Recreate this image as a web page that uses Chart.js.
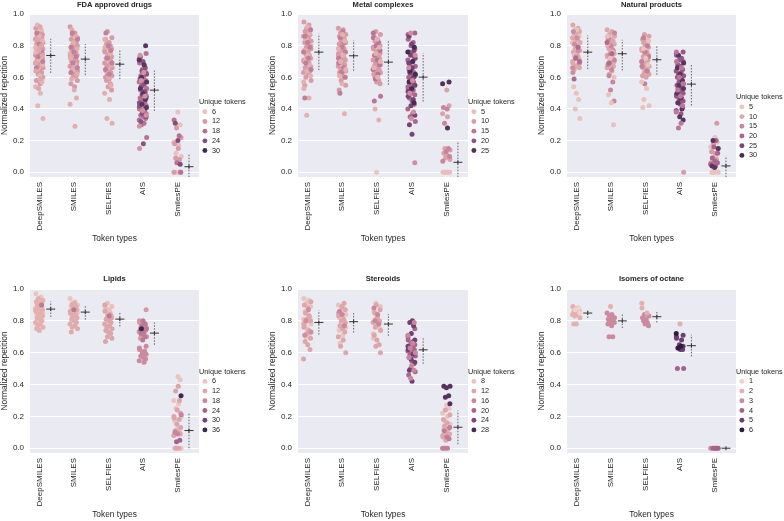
<!DOCTYPE html>
<html>
<head>
<meta charset="utf-8">
<script src="https://cdn.jsdelivr.net/npm/chart.js@4.4.1/dist/chart.umd.min.js"></script>
<style>
  html, body { margin: 0; padding: 0; background: #fff; }
  #wrap { position: relative; width: 784px; height: 521px; overflow: hidden; }
  #wrap canvas { position: absolute; }
</style>
</head>
<body>
<div id="wrap"></div>
<script>
const tokenTypes = ['DeepSMILES', 'SMILES', 'SELFIES', 'AIS', 'SmilesPE'];

// each category: [unique tokens, [normalized repetition, ...]]
const fdaDeepSmiles = [
  [12, [0.91, 0.89, 0.88, 0.87, 0.86, 0.85, 0.85, 0.84, 0.83, 0.82, 0.82, 0.81, 0.80, 0.80, 0.79, 0.78, 0.78, 0.77, 0.77, 0.76, 0.75, 0.75, 0.74, 0.74, 0.73, 0.72, 0.72, 0.71, 0.70, 0.70, 0.69, 0.68, 0.67, 0.66, 0.65, 0.64, 0.63, 0.62, 0.60, 0.58, 0.56]],
  [8, [0.93, 0.90, 0.86, 0.83, 0.79, 0.76, 0.73, 0.71, 0.68, 0.65, 0.61, 0.57, 0.54, 0.50, 0.42, 0.34]],
  [16, [0.88, 0.81, 0.76, 0.73, 0.70, 0.66]],
  [10, [0.92, 0.84, 0.80, 0.77, 0.74, 0.69, 0.64, 0.59, 0.53]]
];
const fdaSmiles = [
  [12, [0.92, 0.88, 0.87, 0.85, 0.84, 0.83, 0.82, 0.81, 0.80, 0.79, 0.78, 0.77, 0.76, 0.75, 0.74, 0.74, 0.73, 0.72, 0.71, 0.70, 0.70, 0.69, 0.68, 0.67, 0.66, 0.65, 0.64, 0.63, 0.62, 0.61, 0.60, 0.58, 0.56, 0.54]],
  [9, [0.90, 0.86, 0.82, 0.78, 0.75, 0.72, 0.68, 0.65, 0.62, 0.59, 0.52, 0.47, 0.43, 0.29]],
  [16, [0.88, 0.84, 0.79, 0.76, 0.73, 0.69, 0.66, 0.63]]
];
const fdaSelfies = [
  [12, [0.89, 0.85, 0.84, 0.82, 0.81, 0.80, 0.79, 0.78, 0.77, 0.76, 0.75, 0.74, 0.73, 0.72, 0.71, 0.70, 0.69, 0.68, 0.67, 0.66, 0.65, 0.64, 0.63, 0.62, 0.61, 0.60, 0.59, 0.58, 0.56, 0.54, 0.52]],
  [9, [0.84, 0.79, 0.75, 0.71, 0.68, 0.64, 0.60, 0.55, 0.50, 0.46, 0.34, 0.31]],
  [16, [0.88, 0.80, 0.77, 0.72, 0.69, 0.65, 0.62]]
];
const fdaAis = [
  [18, [0.75, 0.72, 0.69, 0.67, 0.65, 0.63, 0.61, 0.60, 0.58, 0.57, 0.55, 0.54, 0.53, 0.52, 0.51, 0.50, 0.49, 0.48, 0.47, 0.46, 0.45, 0.44, 0.43, 0.42, 0.41, 0.40, 0.39, 0.38, 0.37, 0.36, 0.35, 0.34, 0.33, 0.31, 0.30, 0.22]],
  [23, [0.73, 0.70, 0.66, 0.64, 0.62, 0.59, 0.56, 0.54, 0.51, 0.49, 0.47, 0.44, 0.42, 0.40, 0.37, 0.35, 0.32, 0.18]],
  [28, [0.80, 0.71, 0.68, 0.60, 0.57, 0.53, 0.50, 0.46, 0.43, 0.41]],
  [13, [0.74, 0.63, 0.58, 0.48, 0.39, 0.36, 0.29, 0.15]]
];
const fdaSmilesPe = [
  [6, [0.38, 0.30, 0.19, 0.17, 0.12, 0.10, 0.0, 0.0, 0.0]],
  [12, [0.28, 0.22, 0.18, 0.15, 0.09, 0.08, 0.07, 0.0, 0.0]],
  [18, [0.33, 0.23, 0.06, 0.0]],
  [24, [0.31, 0.20, 0.05]]
];
const fdaMean = [0.738, 0.715, 0.683, 0.519, 0.035];
const fdaLow = [0.628, 0.614, 0.589, 0.388, -0.05];
const fdaHigh = [0.844, 0.810, 0.774, 0.643, 0.116];
const fdaLegend = [6, 12, 18, 24, 30];

const metalDeepSmiles = [
  [10, [0.95, 0.93, 0.91, 0.90, 0.89, 0.88, 0.87, 0.86, 0.85, 0.84, 0.83, 0.82, 0.81, 0.80, 0.79, 0.78, 0.77, 0.76, 0.75, 0.74, 0.73, 0.72, 0.71, 0.70, 0.69, 0.68, 0.67, 0.66, 0.65, 0.64, 0.63, 0.62, 0.60, 0.58, 0.55]],
  [7, [0.92, 0.88, 0.84, 0.80, 0.77, 0.74, 0.71, 0.68, 0.64, 0.61, 0.57, 0.53, 0.47, 0.36]],
  [14, [0.90, 0.86, 0.82, 0.79, 0.76, 0.72, 0.69, 0.65, 0.47]]
];
const metalSmiles = [
  [10, [0.91, 0.90, 0.88, 0.87, 0.86, 0.85, 0.84, 0.83, 0.82, 0.81, 0.80, 0.79, 0.78, 0.77, 0.76, 0.75, 0.74, 0.73, 0.72, 0.71, 0.70, 0.69, 0.68, 0.67, 0.66, 0.65, 0.64, 0.63, 0.62, 0.60, 0.58, 0.55, 0.52]],
  [14, [0.89, 0.85, 0.82, 0.79, 0.76, 0.72, 0.69, 0.66, 0.63, 0.60, 0.50]],
  [7, [0.87, 0.83, 0.78, 0.74, 0.70, 0.65, 0.61, 0.56, 0.37]]
];
const metalSelfies = [
  [10, [0.89, 0.87, 0.86, 0.84, 0.83, 0.82, 0.81, 0.80, 0.79, 0.78, 0.77, 0.76, 0.75, 0.74, 0.73, 0.72, 0.71, 0.70, 0.69, 0.68, 0.67, 0.66, 0.65, 0.64, 0.63, 0.62, 0.61, 0.60, 0.58, 0.57, 0.56]],
  [15, [0.88, 0.85, 0.82, 0.80, 0.77, 0.74, 0.71, 0.68, 0.65, 0.62, 0.59, 0.48, 0.45]],
  [7, [0.84, 0.79, 0.75, 0.70, 0.66, 0.60, 0.40, 0.33]],
  [4, [0.0]]
];
const metalAis = [
  [17, [0.88, 0.87, 0.84, 0.82, 0.80, 0.78, 0.76, 0.75, 0.73, 0.71, 0.70, 0.68, 0.67, 0.65, 0.64, 0.63, 0.62, 0.61, 0.60, 0.59, 0.58, 0.57, 0.56, 0.55, 0.54, 0.53, 0.52, 0.50, 0.49, 0.47, 0.45, 0.43, 0.40, 0.37, 0.35, 0.32]],
  [22, [0.86, 0.81, 0.77, 0.74, 0.72, 0.69, 0.66, 0.63, 0.60, 0.58, 0.55, 0.51, 0.48, 0.46, 0.42, 0.36, 0.30, 0.24]],
  [26, [0.79, 0.76, 0.70, 0.64, 0.62, 0.57, 0.53, 0.44]],
  [12, [0.88, 0.74, 0.66, 0.58, 0.50, 0.38, 0.34, 0.06]]
];
const metalSmilesPe = [
  [9, [0.52, 0.42, 0.37, 0.35, 0.15, 0.14, 0.12, 0.11, 0.10, 0.09, 0.08]],
  [13, [0.41, 0.40, 0.31, 0.15, 0.13, 0.10, 0.07]],
  [5, [0.0, 0.0, 0.0, 0.0, 0.0, 0.0]],
  [25, [0.57, 0.56, 0.28]]
];
const metalMean = [0.759, 0.736, 0.696, 0.601, 0.063];
const metalLow = [0.645, 0.641, 0.553, 0.447, -0.05];
const metalHigh = [0.875, 0.833, 0.833, 0.753, 0.198];
const metalLegend = [5, 10, 15, 20, 25];

const naturalDeepSmiles = [
  [10, [0.93, 0.91, 0.90, 0.89, 0.88, 0.87, 0.86, 0.85, 0.84, 0.83, 0.82, 0.81, 0.80, 0.79, 0.78, 0.77, 0.76, 0.75, 0.74, 0.73, 0.72, 0.71, 0.70, 0.69, 0.68, 0.67, 0.66, 0.65]],
  [6, [0.90, 0.86, 0.82, 0.78, 0.74, 0.70, 0.54, 0.50, 0.46, 0.40, 0.34]],
  [14, [0.89, 0.85, 0.81, 0.77, 0.73, 0.69, 0.66, 0.63]],
  [19, [0.79, 0.72, 0.70, 0.59]]
];
const naturalSmiles = [
  [10, [0.90, 0.89, 0.87, 0.86, 0.85, 0.84, 0.83, 0.82, 0.81, 0.80, 0.79, 0.78, 0.77, 0.76, 0.75, 0.74, 0.73, 0.72, 0.71, 0.70, 0.69, 0.68, 0.67, 0.66, 0.64, 0.62]],
  [15, [0.88, 0.84, 0.80, 0.77, 0.74, 0.71, 0.68, 0.65, 0.61, 0.57, 0.52, 0.45]],
  [6, [0.86, 0.81, 0.76, 0.72, 0.60, 0.49, 0.44, 0.30]],
  [19, [0.82, 0.75, 0.69]]
];
const naturalSelfies = [
  [11, [0.87, 0.86, 0.84, 0.83, 0.82, 0.81, 0.80, 0.79, 0.78, 0.77, 0.76, 0.75, 0.74, 0.73, 0.72, 0.71, 0.70, 0.69, 0.68, 0.67, 0.66, 0.65, 0.64, 0.63, 0.62, 0.61, 0.60]],
  [16, [0.85, 0.80, 0.76, 0.73, 0.70, 0.67, 0.64, 0.56]],
  [6, [0.83, 0.78, 0.72, 0.68, 0.57, 0.53, 0.46, 0.42, 0.41]]
];
const naturalAis = [
  [22, [0.76, 0.75, 0.74, 0.72, 0.71, 0.70, 0.68, 0.67, 0.65, 0.64, 0.63, 0.62, 0.61, 0.60, 0.59, 0.58, 0.57, 0.56, 0.55, 0.54, 0.53, 0.52, 0.51, 0.50, 0.49, 0.48, 0.47, 0.46, 0.45, 0.44, 0.43, 0.41, 0.39, 0.37]],
  [28, [0.74, 0.69, 0.66, 0.62, 0.58, 0.55, 0.53, 0.50, 0.47, 0.44, 0.40, 0.35, 0.33]],
  [17, [0.76, 0.70, 0.66, 0.60, 0.56, 0.52, 0.48, 0.42, 0.38, 0.31, 0.28]],
  [12, [0.0]]
];
const naturalSmilesPe = [
  [6, [0.22, 0.19, 0.16, 0.10, 0.0, 0.0, 0.0, 0.0]],
  [12, [0.31, 0.18, 0.15, 0.13, 0.12, 0.09, 0.08, 0.07, 0.06, 0.06, 0.05]],
  [20, [0.20, 0.16, 0.12, 0.09, 0.07, 0.06, 0.05, 0.04]],
  [28, [0.20, 0.15, 0.04, 0.03]]
];
const naturalMean = [0.759, 0.749, 0.711, 0.557, 0.040];
const naturalLow = [0.652, 0.643, 0.616, 0.422, -0.05];
const naturalHigh = [0.865, 0.837, 0.801, 0.683, 0.103];
const naturalLegend = [5, 10, 15, 20, 25, 30];

const lipidDeepSmiles = [
  [6, [0.97, 0.95, 0.93, 0.92, 0.91, 0.90, 0.89, 0.88, 0.87, 0.86, 0.85, 0.84, 0.82, 0.80]],
  [10, [0.94, 0.93, 0.92, 0.91, 0.90, 0.89, 0.88, 0.87, 0.87, 0.86, 0.85, 0.84, 0.83, 0.82, 0.81, 0.80, 0.79, 0.78, 0.77, 0.76, 0.75, 0.74]],
  [20, [0.90]]
];
const lipidSmiles = [
  [6, [0.94, 0.92, 0.91, 0.90, 0.89, 0.88, 0.87, 0.86, 0.85, 0.84]],
  [11, [0.91, 0.90, 0.89, 0.88, 0.87, 0.86, 0.85, 0.84, 0.83, 0.82, 0.81, 0.80, 0.79, 0.78, 0.77, 0.76, 0.75, 0.73]],
  [20, [0.87]]
];
const lipidSelfies = [
  [7, [0.91, 0.89, 0.88, 0.87, 0.86, 0.85, 0.84, 0.83]],
  [12, [0.90, 0.86, 0.84, 0.83, 0.82, 0.81, 0.80, 0.79, 0.78, 0.77, 0.76, 0.75, 0.74, 0.73, 0.72, 0.70, 0.69, 0.67]],
  [20, [0.83]]
];
const lipidAis = [
  [14, [0.87, 0.80, 0.79, 0.78, 0.77, 0.76, 0.76, 0.75, 0.74, 0.73, 0.72, 0.71, 0.70, 0.69]],
  [20, [0.80, 0.78, 0.77, 0.75, 0.74, 0.73, 0.72, 0.70, 0.68]],
  [17, [0.64, 0.63, 0.62, 0.61, 0.60, 0.59, 0.58, 0.57, 0.56, 0.55, 0.54]],
  [36, [0.75]]
];
const lipidSmilesPe = [
  [6, [0.45, 0.43, 0.30, 0.28, 0.25, 0.20, 0.17, 0.12, 0.10, 0.0, 0.0, 0.0]],
  [12, [0.39, 0.36, 0.30, 0.24, 0.22, 0.20, 0.19, 0.18, 0.15, 0.13, 0.11, 0.10, 0.09, 0.08, 0.0, 0.0]],
  [18, [0.21, 0.10, 0.09]],
  [24, [0.05, 0.04]],
  [36, [0.33]]
];
const lipidMean = [0.874, 0.855, 0.811, 0.723, 0.111];
const lipidLow = [0.824, 0.807, 0.765, 0.650, 0.0];
const lipidHigh = [0.922, 0.895, 0.860, 0.790, 0.224];
const lipidLegend = [6, 12, 18, 24, 30, 36];

const stereoidDeepSmiles = [
  [8, [0.94, 0.93, 0.91, 0.89, 0.86, 0.84, 0.82, 0.81, 0.80, 0.79, 0.78, 0.77, 0.75, 0.72, 0.70]],
  [12, [0.92, 0.90, 0.88, 0.85, 0.83, 0.81, 0.80, 0.78, 0.76, 0.74, 0.72, 0.69, 0.67, 0.65, 0.62, 0.56]],
  [15, [0.87, 0.80, 0.73, 0.71]]
];
const stereoidSmiles = [
  [8, [0.90, 0.88, 0.86, 0.84, 0.82, 0.80, 0.79, 0.78, 0.76, 0.74, 0.71, 0.66]],
  [12, [0.91, 0.89, 0.87, 0.85, 0.83, 0.81, 0.80, 0.79, 0.77, 0.75, 0.73, 0.70, 0.68, 0.64, 0.60]],
  [16, [0.86, 0.84, 0.77]]
];
const stereoidSelfies = [
  [8, [0.91, 0.89, 0.86, 0.83, 0.81, 0.79, 0.77, 0.75, 0.72, 0.69, 0.65]],
  [12, [0.90, 0.87, 0.85, 0.82, 0.80, 0.79, 0.78, 0.76, 0.74, 0.71, 0.68, 0.65, 0.64, 0.60]],
  [16, [0.88, 0.84, 0.80, 0.78]]
];
const stereoidAis = [
  [20, [0.75, 0.70, 0.68, 0.67, 0.66, 0.65, 0.64, 0.63, 0.62, 0.61, 0.60, 0.59, 0.58, 0.57, 0.55, 0.53, 0.50, 0.48, 0.46]],
  [25, [0.80, 0.79, 0.77, 0.72, 0.68, 0.64, 0.62, 0.59, 0.56, 0.54, 0.49, 0.42]],
  [16, [0.79, 0.71, 0.66, 0.63, 0.60, 0.57, 0.52, 0.49, 0.44]]
];
const stereoidSmilesPe = [
  [8, [0.27, 0.25, 0.22, 0.20, 0.17, 0.15, 0.12, 0.10, 0.08]],
  [12, [0.24, 0.21, 0.18, 0.16, 0.14, 0.12, 0.10, 0.09, 0.08, 0.07, 0.06, 0.05]],
  [17, [0.13, 0.11, 0.07, 0.06, 0.0, 0.0, 0.0]],
  [27, [0.39, 0.39, 0.38, 0.33, 0.32, 0.28]]
];
const stereoidMean = [0.790, 0.795, 0.780, 0.618, 0.132];
const stereoidLow = [0.713, 0.727, 0.706, 0.530, 0.025];
const stereoidHigh = [0.866, 0.849, 0.843, 0.698, 0.237];
const stereoidLegend = [8, 12, 16, 20, 24, 28];

const octaneDeepSmiles = [
  [2, [0.89, 0.88, 0.87, 0.86, 0.86, 0.85, 0.85, 0.84, 0.84, 0.83, 0.82, 0.78, 0.78]],
  [1, [0.88, 0.87, 0.85]]
];
const octaneSmiles = [
  [3, [0.85, 0.84, 0.83, 0.82, 0.81, 0.81, 0.80, 0.79, 0.79, 0.78, 0.77, 0.70, 0.70]],
  [2, [0.89]]
];
const octaneSelfies = [
  [3, [0.84, 0.83, 0.82, 0.81, 0.80, 0.79, 0.78, 0.77]],
  [2, [0.91, 0.88, 0.85]]
];
const octaneAis = [
  [5, [0.71, 0.70, 0.69, 0.68, 0.65, 0.64, 0.63, 0.62, 0.62]],
  [6, [0.72, 0.64, 0.63]],
  [4, [0.50, 0.50]],
  [2, [0.78]]
];
const octaneSmilesPe = [
  [3, [0.0, 0.0, 0.0]],
  [4, [0.0, 0.0, 0.0]]
];
const octaneMean = [0.849, 0.800, 0.826, 0.644, 0.0];
const octaneLow = [0.818, 0.755, 0.790, 0.577, 0.0];
const octaneHigh = [0.870, 0.849, 0.860, 0.713, 0.0];
const octaneLegend = [1, 2, 3, 4, 5, 6];

const panels = [
  { title: 'FDA approved drugs', cats: [fdaDeepSmiles, fdaSmiles, fdaSelfies, fdaAis, fdaSmilesPe], mean: fdaMean, low: fdaLow, high: fdaHigh, legend: fdaLegend, hue: [3, 32], col: 0, row: 0 },
  { title: 'Metal complexes', cats: [metalDeepSmiles, metalSmiles, metalSelfies, metalAis, metalSmilesPe], mean: metalMean, low: metalLow, high: metalHigh, legend: metalLegend, hue: [2, 28], col: 1, row: 0 },
  { title: 'Natural products', cats: [naturalDeepSmiles, naturalSmiles, naturalSelfies, naturalAis, naturalSmilesPe], mean: naturalMean, low: naturalLow, high: naturalHigh, legend: naturalLegend, hue: [3, 32], col: 2, row: 0 },
  { title: 'Lipids', cats: [lipidDeepSmiles, lipidSmiles, lipidSelfies, lipidAis, lipidSmilesPe], mean: lipidMean, low: lipidLow, high: lipidHigh, legend: lipidLegend, hue: [3, 38], col: 0, row: 1 },
  { title: 'Stereoids', cats: [stereoidDeepSmiles, stereoidSmiles, stereoidSelfies, stereoidAis, stereoidSmilesPe], mean: stereoidMean, low: stereoidLow, high: stereoidHigh, legend: stereoidLegend, hue: [6, 30], col: 1, row: 1 },
  { title: 'Isomers of octane', cats: [octaneDeepSmiles, octaneSmiles, octaneSelfies, octaneAis, octaneSmilesPe], mean: octaneMean, low: octaneLow, high: octaneHigh, legend: octaneLegend, hue: [1, 6], col: 2, row: 1 }
];

// strip-plot jitter, in category units
const jitter = [-0.1, 0.045, -0.02, 0.09, -0.065, 0.01, 0.075, -0.11, 0.03, -0.045, 0.105, -0.075, 0.0, 0.065, -0.03, 0.1, -0.085, 0.02, -0.055, 0.055, -0.01, 0.09, -0.105];
const MEAN_OFFSET = 0.33;

const LEGEND_W = 50;
const colLeft = [0, 262, 522];
const colWidth = [262, 260, 275];
const colPadLeft = [0, 6, 15];
const colPadRight = [13, 4, 11];
const rowTop = [0, 260];
const rowHeight = [260, 261];
const rowPadTop = [0, 13];
const rowPadBottom = [16, 1];
const rowTitlePad = [{ top: 0.5, bottom: 4.4 }, { top: 1, bottom: 5.9 }];

const ramp = ['#efd3cd', '#e3b0ae', '#cc8a9f', '#a6628c', '#6f3f72', '#2d1e3e'];
const TEXT = '#262626';
const FONT = '"Liberation Sans", Arial, sans-serif';
Chart.defaults.font.family = FONT;
Chart.defaults.color = TEXT;

function hexRgb(h) {
  return [1, 3, 5].map(i => parseInt(h.slice(i, i + 2), 16));
}

function hueColor(t, range) {
  let f = (t - range[0]) / (range[1] - range[0]);
  f = Math.max(0, Math.min(1, f)) * (ramp.length - 1);
  const i = Math.min(Math.floor(f), ramp.length - 2);
  const a = hexRgb(ramp[i]), b = hexRgb(ramp[i + 1]);
  const k = f - i;
  const c = a.map((v, j) => Math.round(v + (b[j] - v) * k));
  return `rgb(${c[0]},${c[1]},${c[2]})`;
}

function stripPoints(cats) {
  const pts = [];
  cats.forEach((groups, i) => {
    let k = i * 7;
    groups.forEach(([tok, vals]) => {
      vals.forEach(v => {
        pts.push({ x: i + jitter[k % jitter.length], y: v, t: tok });
        k++;
      });
    });
  });
  return pts;
}

function errorSegments(low, high) {
  const pts = [];
  low.forEach((lo, i) => {
    pts.push({ x: i + MEAN_OFFSET, y: lo }, { x: i + MEAN_OFFSET, y: high[i] }, { x: i + MEAN_OFFSET, y: null });
  });
  return pts;
}

const plotBackground = {
  id: 'plotBackground',
  beforeDraw(chart) {
    const { ctx, chartArea: a } = chart;
    ctx.save();
    ctx.fillStyle = '#eaeaf2';
    ctx.fillRect(a.left, a.top, a.width, a.height);
    ctx.restore();
  }
};

const wrap = document.getElementById('wrap');
// trailing blanks keep the legend box wide enough for its title
const legendPad = '\u00a0'.repeat(24);

panels.forEach(p => {
  const canvas = document.createElement('canvas');
  canvas.width = colWidth[p.col];
  canvas.height = rowHeight[p.row];
  canvas.style.left = colLeft[p.col] + 'px';
  canvas.style.top = rowTop[p.row] + 'px';
  wrap.appendChild(canvas);

  const meanPts = p.mean.map((m, i) => ({ x: i + MEAN_OFFSET, y: m }));

  new Chart(canvas, {
    type: 'scatter',
    data: {
      datasets: [
        {
          data: stripPoints(p.cats),
          order: 3,
          pointRadius: 2.5,
          pointBorderWidth: 0,
          pointBackgroundColor: c => hueColor(c.raw.t, p.hue)
        },
        {
          data: errorSegments(p.low, p.high),
          order: 2,
          showLine: true,
          spanGaps: false,
          borderColor: '#555555',
          borderWidth: 0.9,
          borderDash: [1.5, 1.5],
          pointRadius: 0
        },
        {
          data: meanPts,
          order: 1,
          pointStyle: 'line',
          pointRadius: 4.5,
          pointBorderColor: '#333333',
          pointBorderWidth: 1
        },
        {
          data: meanPts,
          order: 0,
          pointStyle: 'line',
          pointRotation: 90,
          pointRadius: 2,
          pointBorderColor: '#333333',
          pointBorderWidth: 1
        }
      ]
    },
    options: {
      responsive: false,
      animation: false,
      events: [],
      layout: {
        padding: { left: colPadLeft[p.col], right: colPadRight[p.col], top: rowPadTop[p.row], bottom: rowPadBottom[p.row] }
      },
      plugins: {
        title: {
          display: true,
          text: p.title,
          fullSize: false,
          color: TEXT,
          font: { size: 7.6, weight: 'bold' },
          padding: rowTitlePad[p.row]
        },
        legend: {
          position: 'right',
          align: 'center',
          maxWidth: LEGEND_W,
          title: {
            display: true,
            text: 'Unique tokens',
            position: 'start',
            color: TEXT,
            font: { size: 7.3, lineHeight: 1 },
            padding: { top: 11, bottom: 0 }
          },
          labels: {
            usePointStyle: true,
            boxWidth: 7,
            boxHeight: 3.5,
            padding: 2.4,
            color: TEXT,
            font: { size: 7.3 },
            generateLabels: () => p.legend.map(v => ({
              text: String(v) + legendPad,
              fillStyle: hueColor(v, p.hue),
              strokeStyle: hueColor(v, p.hue),
              lineWidth: 0,
              pointStyle: 'circle',
              hidden: false
            }))
          }
        },
        tooltip: { enabled: false }
      },
      scales: {
        x: {
          type: 'linear',
          min: -0.27,
          max: 4.62,
          afterBuildTicks: s => { s.ticks = tokenTypes.map((_, i) => ({ value: i })); },
          afterFit: s => { s.height = 67; },
          ticks: {
            callback: v => tokenTypes[v],
            autoSkip: false,
            minRotation: 90,
            maxRotation: 90,
            padding: 5,
            color: TEXT,
            font: { size: 8 }
          },
          grid: { display: false, drawTicks: false },
          border: { display: false },
          title: { display: true, text: 'Token types', color: TEXT, font: { size: 8.4 }, padding: 0 }
        },
        y: {
          min: -0.03,
          max: 1.0,
          afterBuildTicks: s => { s.ticks = [0, 0.2, 0.4, 0.6, 0.8, 1.0].map(v => ({ value: v })); },
          afterFit: s => { s.width = 30; },
          ticks: {
            callback: v => v.toFixed(1),
            padding: 6,
            color: TEXT,
            font: { size: 8 }
          },
          grid: { color: '#ffffff', lineWidth: 1, drawTicks: false },
          border: { display: false },
          title: { display: true, text: 'Normalized repetition', color: TEXT, font: { size: 8.4 }, padding: 0 }
        }
      }
    },
    plugins: [plotBackground]
  });
});
</script>
</body>
</html>
